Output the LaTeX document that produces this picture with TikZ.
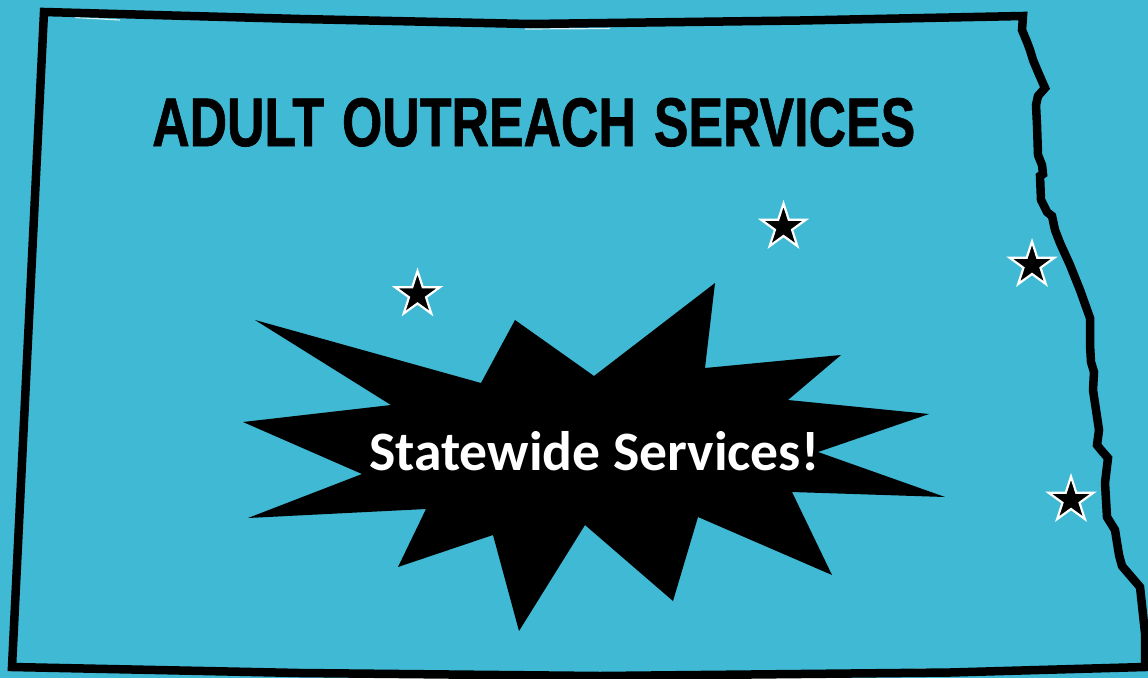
\documentclass[tikz,border=0pt]{standalone}
\usepackage{fontspec}
\usepackage{graphicx}
\setmainfont{Liberation Sans}
\newfontfamily\titlefont[FakeBold=1.1,WordSpace=1.25]{Liberation Sans Bold}
\newfontfamily\burstfont{Carlito}
\usetikzlibrary{shapes.geometric}
\definecolor{bgblue}{HTML}{40B9D4}
\tikzset{
  mapstar/.style={star,star points=5,star point ratio=2.618,inner sep=0pt,minimum size=47pt,fill=black,draw=white,line width=2.2pt,miter limit=10},
  border/.style={draw=black,line width=8.5pt,line join=miter},
  titletext/.style={inner sep=0pt,anchor=base west,text=black},
  bursttext/.style={inner sep=0pt,anchor=base west,text=white}
}
\begin{document}
\begin{tikzpicture}[x=1pt,y=-1pt]
\path[use as bounding box,fill=bgblue] (0,0) rectangle (1148,678);
% white scan flecks along the outline
\draw[white,line width=1.2pt,opacity=.8] (525,29) -- (610,28.5) (75,17.5) -- (120,20) (1038,200) -- (1044,212) (240,671) -- (300,669.5) (885,670) -- (930,669);
% state outline
\draw[border] (44,12) -- (300,19) -- (530,24) -- (800,20.5) -- (1023,16)
 -- (1022,30) -- (1027,42) -- (1030,50) -- (1033,60) -- (1038,72) -- (1045,88) -- (1038,96) -- (1036,105)
 -- (1037,125) -- (1038,155) -- (1042,165) -- (1043,174) -- (1040,176) -- (1041,200) -- (1047,212) -- (1052,216) -- (1055,230)
 -- (1060,243) -- (1070,265) -- (1080,290) -- (1090,318) -- (1090,345) -- (1091,362) -- (1094,372) -- (1093,390) -- (1099,430)
 -- (1097,445) -- (1101,450) -- (1108,458) -- (1105,483) -- (1107,517) -- (1115,530) -- (1119,555) -- (1122,566) -- (1140,587)
 -- (1145,633) -- (1145,667) -- (950,672.5) -- (600,676) -- (300,673) -- (12,667) -- cycle;
% burst
\fill[black] (255,320) -- (481,383) -- (515,320) -- (594,376) -- (715,283) -- (705,368) -- (841,355)
 -- (788,400) -- (929,414) -- (818,452) -- (945,497) -- (792,492) -- (832,575) -- (698,517)
 -- (673,601) -- (585,525) -- (519,631) -- (493,535) -- (398,567) -- (426,509) -- (248,518)
 -- (362,474) -- (243,422) -- (391,405) -- cycle;
\node[mapstar] (s1) at (417.5,294.5) {};
\node[mapstar] (s2) at (783.5,227) {};
\node[mapstar] (s3) at (1032,265) {};
\node[mapstar] (s4) at (1071,500) {};
\node[titletext] (title) at (152,146) {\resizebox{763pt}{48pt}{\titlefont ADULT OUTREACH SERVICES}};
\node[bursttext] (burst) at (369,470) {\resizebox{450pt}{!}{\burstfont\bfseries Statewide Services!}};
\end{tikzpicture}
\end{document}
